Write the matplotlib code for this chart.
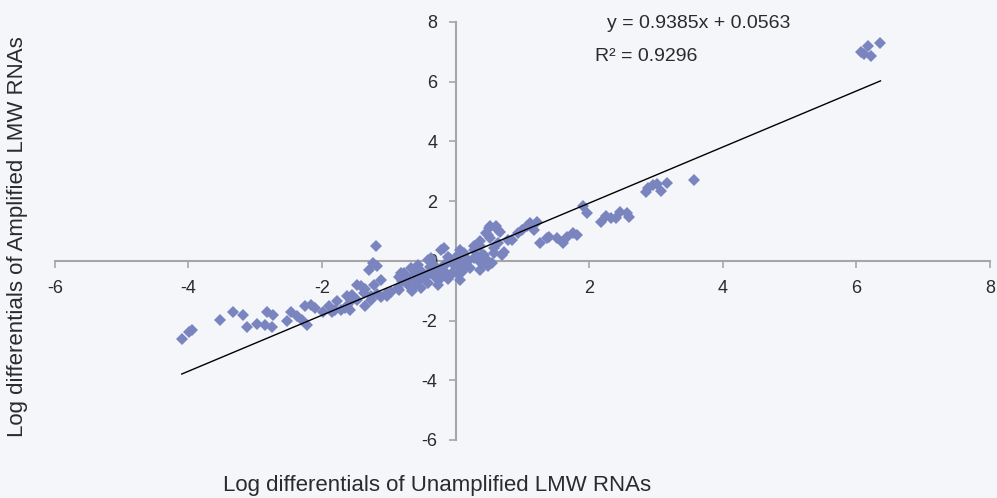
#Scatter of amplified vs unamplified LMW RNA log differentials
import numpy as np
import matplotlib.pyplot as plt

# values
unamplified = [-4.10, -3.99, -3.94, -3.52, -3.33, -3.18, -3.12, -2.97, -2.86, -2.75,
               -2.82, -2.74, -2.52, -2.46, -2.37, -2.30, -2.22, -2.25, -2.17, -2.10,
               -1.98, -1.89, -1.85, -1.77, -1.71, -1.62, -1.58, -1.62, -1.55, -1.47,
               -1.42, -1.35, -1.35, -1.27, -1.18, -1.12, -1.17, -1.29, -1.23, -1.19,
               -1.12, -1.02, -0.97, -0.85, -0.81, -0.78, -0.72, -0.65, -0.65, -0.60,
               -0.55, -0.50, -0.43, -0.39, -0.33, -0.30, -0.24, -0.18, -0.15, -0.11,
               -0.07, -0.03, 0.03, 0.07, 0.10, 0.15, 0.22, 0.28, 0.35, 0.40,
               0.45, 0.48, 0.52, 0.55, 0.63,
               -1.22, -1.47, -1.37, -1.57, -1.27, -1.80, -1.65, -0.82, -0.63, -0.85,
               -0.42, -0.22, -0.37, -0.18, -0.27, -0.10, -0.05,
               0.50, 0.60, 0.67, 0.48, 0.37, 0.27, 0.12, -0.12, -0.18, 0.05,
               0.18, 0.33, 0.42, 0.70, 0.57, 0.78, 0.85, 0.93, 1.00, 1.07,
               1.12, 1.22, 1.17, 1.27, 1.37, -0.07, 0.03, 0.37, 0.48, 0.07,
               1.40, 1.52, 1.60, 1.67, 1.75, 1.82, 1.90, 1.97, 2.17, 2.25,
               2.32, 2.40, 2.46, 2.57, 2.60, 2.85, 2.88, 2.95, 3.02, 3.07,
               3.17, 3.57,
               0.07, 0.37, 0.52, 0.63, 0.72, 0.27, 0.12, -0.27, -0.47, -0.63,
               -0.72, -0.87, -1.02, -0.52, -0.42, -0.22, 0.18, 0.42, 0.48, 0.57,
               -0.37, -0.57, -0.67,
               6.07, 6.12, 6.17, 6.22, 6.36]
amplified = [-2.61, -2.37, -2.31, -1.97, -1.71, -1.81, -2.23, -2.11, -2.16, -2.20,
             -1.73, -1.83, -2.03, -1.70, -1.86, -1.97, -2.16, -1.53, -1.47, -1.57,
             -1.70, -1.53, -1.71, -1.36, -1.66, -1.53, -1.64, -1.19, -1.14, -1.30,
             -0.86, -0.94, -1.53, -1.17, -1.10, -0.64, -0.17, -0.30, -0.08, 0.48,
             -1.20, -1.19, -1.03, -0.53, -0.69, -0.40, -0.60, -0.53, -1.00, -0.32,
             -0.64, -0.36, -0.47, -0.20, -0.13, -0.57, -0.30, 0.42, -0.40, -0.60,
             0.03, -0.13, 0.20, -0.02, -0.36, -0.08, -0.24, 0.37, -0.02, 0.20,
             0.93, -0.13, 1.15, -0.08, 1.04,
             -0.80, -0.80, -1.08, -1.36, -1.30, -1.64, -1.58, -0.41, -0.86, -0.97,
             0.03, 0.37, -0.41, -0.19, -0.80, 0.09, -0.41,
             1.09, 1.15, 0.98, 0.87, 0.48, 0.48, 0.26, 0.14, -0.13, -0.13,
             0.03, 0.14, -0.08, 0.20, 0.26, 0.70, 0.70, 0.93, 1.04, 1.15,
             1.26, 1.31, 1.04, 0.59, 0.76, -0.47, -0.41, -0.30, -0.19, -0.64,
             0.81, 0.76, 0.59, 0.81, 0.93, 0.87, 1.84, 1.60, 1.31, 1.51,
             1.43, 1.43, 1.65, 1.60, 1.48, 2.32, 2.45, 2.54, 2.58, 2.35,
             2.62, 2.71,
             0.37, 0.65, 0.76, 0.59, 0.31, 0.09, -0.24, -0.36, -0.58, -0.47,
             -0.80, -0.91, -1.08, -0.91, -0.75, -0.58, -0.02, 0.20, -0.02, 0.42,
             0.09, -0.13, -0.24,
             7.00, 6.94, 7.19, 6.86, 7.29]

slope = 0.9385
intercept = 0.0563
r_squared = 0.9296
ticks = [-6, -4, -2, 0, 2, 4, 6, 8]

bg = '#F5F6FA'
txt = '#2b2b2b'
plt.rcParams['font.family'] = ['Liberation Sans', 'DejaVu Sans']

fig = plt.figure(figsize=(9.97, 4.98), dpi=100, facecolor=bg)
ax = fig.add_axes([0.055, 0.1165, 0.938, 0.8395], facecolor=bg)

ax.plot(unamplified, amplified, linestyle='none', marker='D', markersize=6.5,
        color='#7A85BF', markeredgewidth=0, zorder=3)

# trendline over the data range
xs = np.array([min(unamplified), max(unamplified)])
ax.plot(xs, slope * xs + intercept, color='black', lw=1, zorder=4)

ax.set_xlim(-6, 8)
ax.set_ylim(-6, 8)
ax.spines['left'].set_position(('data', 0))
ax.spines['bottom'].set_position(('data', 0))
ax.spines['top'].set_visible(False)
ax.spines['right'].set_visible(False)
for s in ['left', 'bottom']:
    ax.spines[s].set_color('#A6A6A6')
    ax.spines[s].set_linewidth(1.5)
    ax.spines[s].set_zorder(1)

ax.set_xticks(ticks)
ax.set_xticklabels(['' if t == 0 else str(t) for t in ticks])
ax.set_yticks(ticks)
ax.set_yticklabels([str(t) for t in ticks])
ax.tick_params(axis='both', colors='#A6A6A6', labelcolor=txt,
               labelsize=13, length=5, width=1.2, direction='out')
ax.tick_params(axis='x', pad=9)
ax.tick_params(axis='y', pad=8)

fig.text(0.609, 0.952, 'y = {}x + {}'.format(slope, intercept), fontsize=14,
         color=txt, va='center', ha='left')
fig.text(0.597, 0.886, 'R² = {:.4f}'.format(r_squared), fontsize=14,
         color=txt, va='center', ha='left')

fig.text(0.438, 0.026, 'Log differentials of Unamplified LMW RNAs', fontsize=16,
         color=txt, ha='center', va='center')
fig.text(0.018, 0.525, 'Log differentials of Amplified LMW RNAs', fontsize=16,
         color=txt, ha='center', va='center', rotation=90)

fig.savefig('out.png', dpi=100, facecolor=bg)
